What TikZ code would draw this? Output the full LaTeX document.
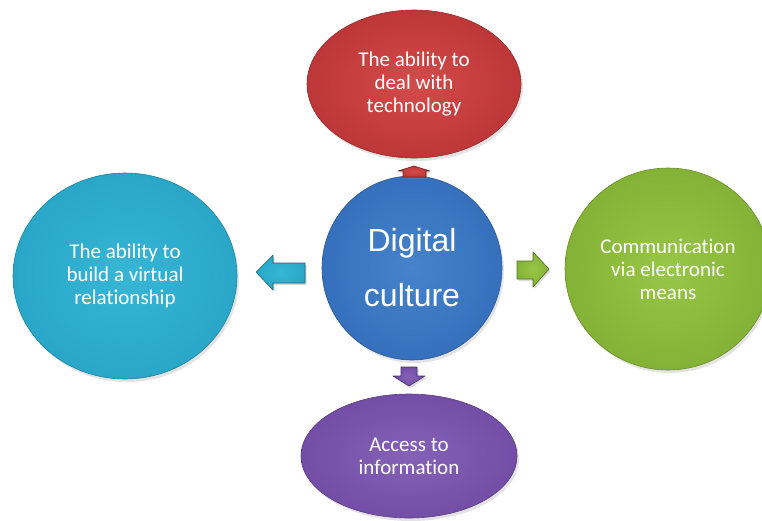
\documentclass[tikz,border=0pt]{standalone}
\usepackage{fontspec}
\setmainfont[Ligatures=NoCommon]{Carlito}
\newfontfamily\digfont{Liberation Sans}
\usetikzlibrary{shapes.geometric,shadows}
\definecolor{cred}{HTML}{BE3738}
\definecolor{credl}{HTML}{D34B4A}
\definecolor{cblue}{HTML}{3670BC}
\definecolor{cbluel}{HTML}{4683CC}
\definecolor{ccyan}{HTML}{29A6C8}
\definecolor{ccyanl}{HTML}{38B6D6}
\definecolor{cgreen}{HTML}{84B236}
\definecolor{cgreenl}{HTML}{98C646}
\definecolor{cpurple}{HTML}{744EA6}
\definecolor{cpurplel}{HTML}{8561B8}
\tikzset{
  bubble/.style n args={2}{ellipse, inner sep=0pt, text=white, align=center,
    shading=radial, inner color=#2, outer color=#1, draw=#1!80!black, line width=0.6pt,
    drop shadow={opacity=0.22, shadow xshift=2pt, shadow yshift=-3pt},
    font=\fontsize{21}{23}\selectfont},
  blockarrow/.style n args={2}{shading=radial, inner color=#2, outer color=#1,
    draw=#1!60!black, line width=0.6pt, line join=round,
    drop shadow={opacity=0.3, shadow xshift=1.5pt, shadow yshift=-2pt}}
}
\begin{document}
\begin{tikzpicture}[x=1pt,y=-1pt]
\useasboundingbox (0,0) rectangle (762,520);
\clip (0,0) rectangle (762,520);
% outer bubbles
\node[bubble={cred}{credl}, minimum width=214pt, minimum height=148pt] (top) at (414,84)
  {The ability to\\deal with\\technology};
\node[bubble={ccyan}{ccyanl}, minimum width=224pt, minimum height=206pt] (left) at (125,276)
  {The ability to\\build a virtual\\relationship};
\node[bubble={cgreen}{cgreenl}, minimum width=206pt, minimum height=202pt] (right) at (668,269)
  {Communication\\via electronic\\means};
\node[bubble={cpurple}{cpurplel}, minimum width=216pt, minimum height=124pt] (bottom) at (409,456)
  {Access to\\information};
% centre
\node[bubble={cblue}{cbluel}, minimum width=180pt, minimum height=184pt,
  font=\digfont\fontsize{32}{55}\selectfont] (centre) at (412,268)
  {Digital\\culture};
% block arrows
\path[blockarrow={ccyan}{ccyanl}] (256,272) -- (273,255) -- (273,263) -- (305,263) -- (305,283)
  -- (273,283) -- (273,290) -- cycle;
\path[blockarrow={cgreen}{cgreenl}] (517,261) -- (533,261) -- (533,252) -- (549,269) -- (533,287)
  -- (533,279) -- (517,279) -- cycle;
\path[blockarrow={cred}{credl}] (414,166) -- (430,171) -- (426,171) -- (426,177) -- (403,177)
  -- (403,171) -- (398,171) -- cycle;
\path[blockarrow={cpurple}{cpurplel}] (401,367) -- (417,367) -- (417,376) -- (425,376) -- (409,386)
  -- (393,376) -- (401,376) -- cycle;
\end{tikzpicture}
\end{document}
